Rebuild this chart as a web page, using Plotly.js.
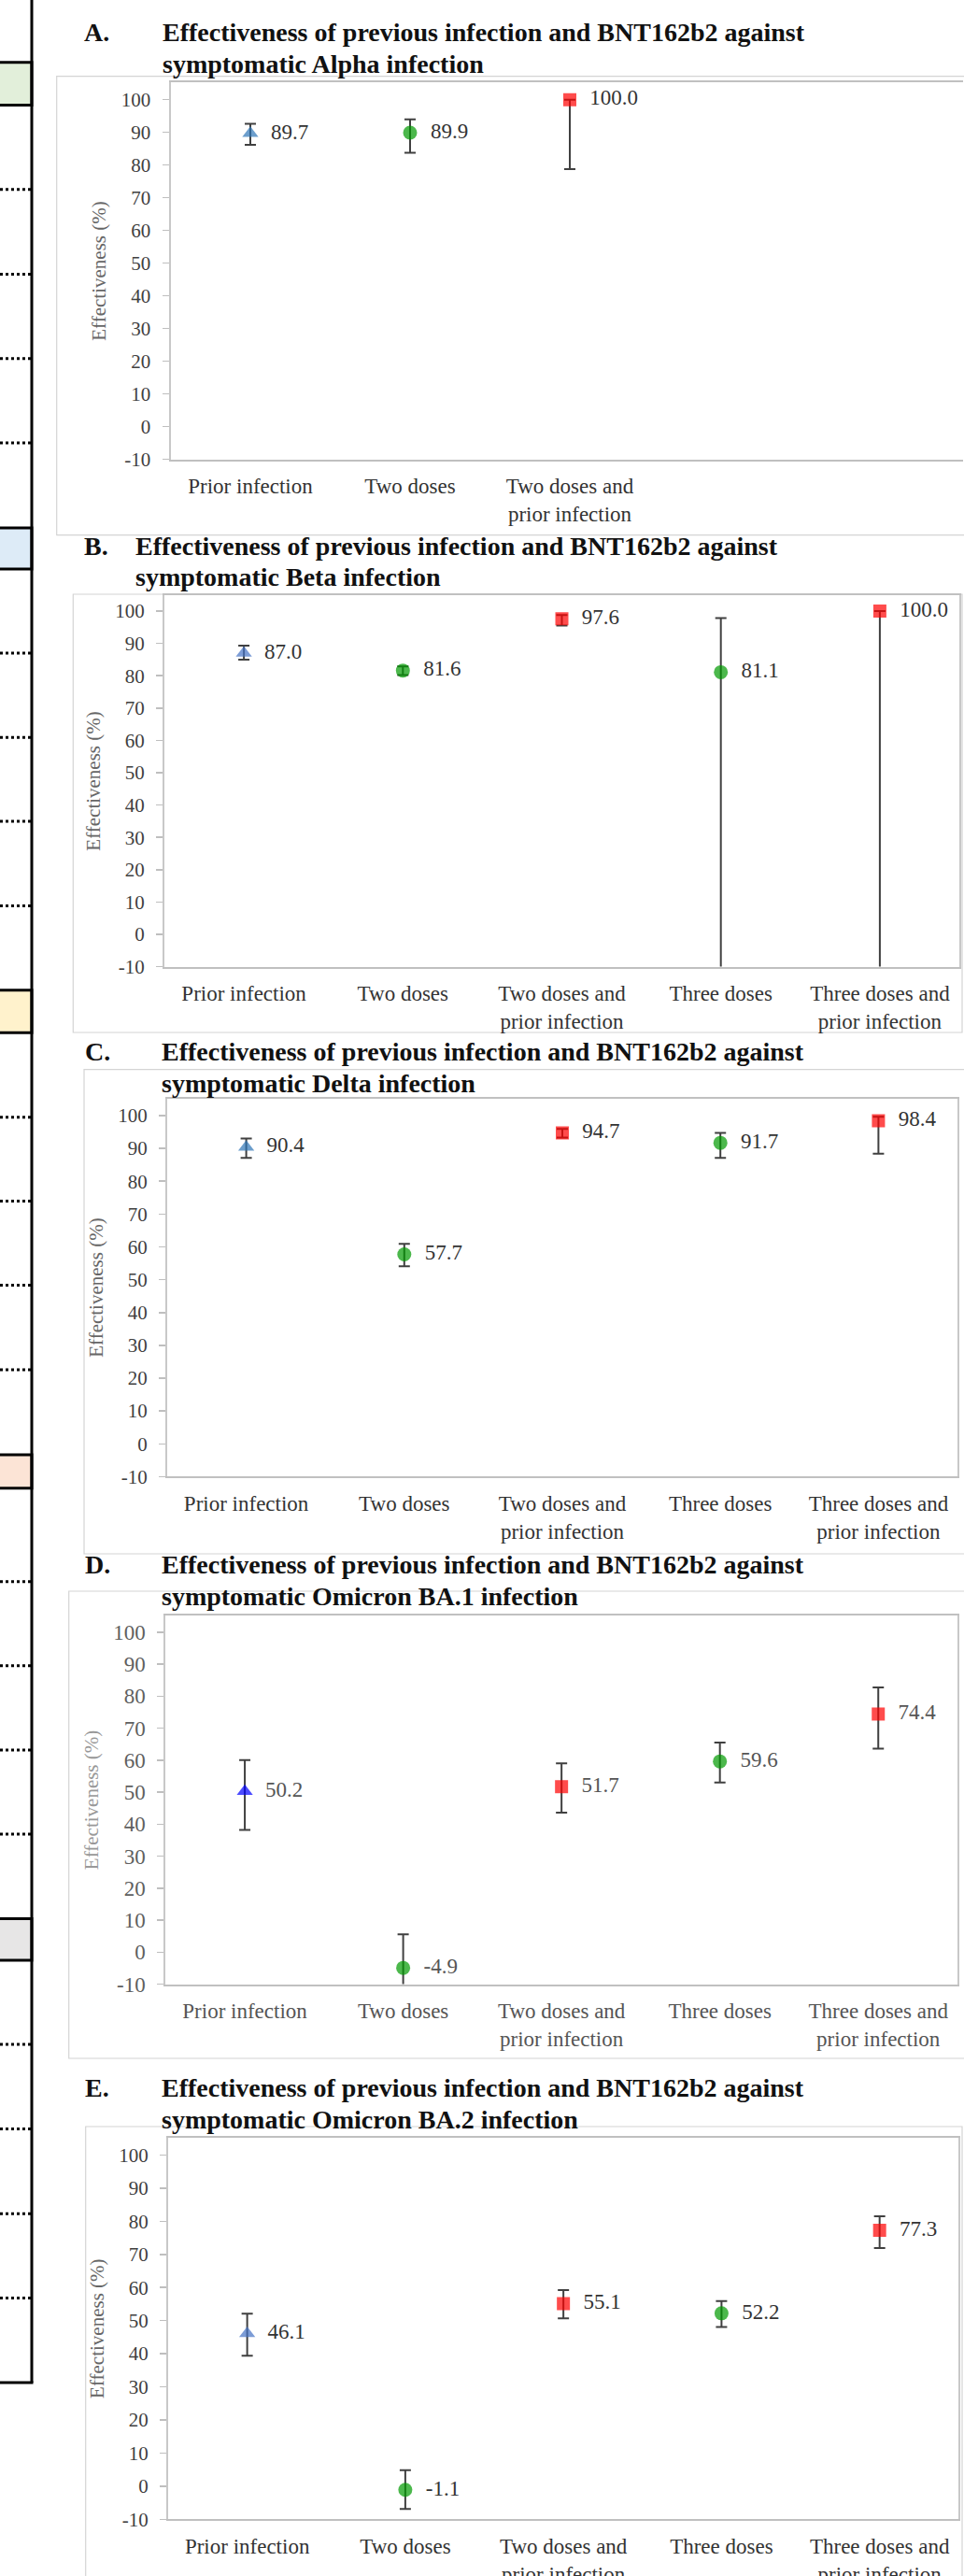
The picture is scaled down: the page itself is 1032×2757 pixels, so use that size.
<!DOCTYPE html>
<html>
<head>
<meta charset="utf-8">
<script src="https://cdn.plot.ly/plotly-3.0.1.min.js"></script>
<style>html,body{margin:0;padding:0;background:#fff;overflow:hidden}</style>
</head>
<body>
<div id="chart" style="width:1032px;height:2757px"></div>
<script>
// ---------------- DATA ----------------
const categories = ["Prior infection", "Two doses", "Two doses and<br>prior infection", "Three doses", "Three doses and<br>prior infection"];
const yTickVals = [-10, 0, 10, 20, 30, 40, 50, 60, 70, 80, 90, 100];
const panelLetters = ["A.", "B.", "C.", "D.", "E."];
const titleLine1 = "Effectiveness of previous infection and BNT162b2 against";
const variants = ["Alpha", "Beta", "Delta", "Omicron BA.1", "Omicron BA.2"];
const yTitle = "Effectiveness (%)";

// Alpha (3 groups)
const alphaVE   = [89.7, 89.9, 100.0];
const alphaLow  = [86.2, 83.8, 78.8];
const alphaHigh = [92.6, 94.0, 100.0];
// Beta
const betaVE   = [87.0, 81.6, 97.6, 81.1, 100.0];
const betaLow  = [85.0, 80.2, 95.5, -50.0, -40.0];
const betaHigh = [89.3, 82.9, 98.8, 97.8, 100.0];
// Delta
const deltaVE   = [90.4, 57.7, 94.7, 91.7, 98.4];
const deltaLow  = [87.1, 54.1, 93.3, 87.1, 88.4];
const deltaHigh = [93.0, 60.9, 95.9, 94.7, 99.6];
// Omicron BA.1
const ba1VE   = [50.2, -4.9, 51.7, 59.6, 74.4];
const ba1Low  = [38.2, -16.0, 43.6, 53.0, 63.6];
const ba1High = [60.0, 5.6, 59.0, 65.5, 82.7];
// Omicron BA.2
const ba2VE   = [46.1, -1.1, 55.1, 52.2, 77.3];
const ba2Low  = [39.4, -6.9, 50.7, 48.1, 71.9];
const ba2High = [52.1, 4.8, 59.2, 55.9, 81.5];

const symbols = ["triangle-up", "circle", "square", "circle", "square"];
const symbolSizes = [15, 15, 14, 15, 14];

// ---------------- LAYOUT GEOMETRY (px) ----------------
const W = 1032, H = 2757;
const FONT = "'Liberation Serif', 'Times New Roman', serif";
const panels = [
  {ve: alphaVE, lo: alphaLow, hi: alphaHigh, plot: [182.5, 88.3, 1031, 491.7], yTop: 105.26, xMax: 4.462, mirrorY: false,
   frame: [60.7, 81.7, 1060, 572.7], letterX: 88, textX: 171.5, base: [43, 77], blue: "#2e75b6",
   tick: "#404040", lab: "#333333", ytitle: "#666666", tickSize: 21},
  {ve: betaVE, lo: betaLow, hi: betaHigh, plot: [176, 637.3, 1027, 1034.6], yTop: 104.83, xMax: 4.5, mirrorY: true,
   frame: [78.3, 636, 1030, 1105], letterX: 88, textX: 143, base: [593, 627], blue: "#4472c4",
   tick: "#404040", lab: "#333333", ytitle: "#666666", tickSize: 21},
  {ve: deltaVE, lo: deltaLow, hi: deltaHigh, plot: [179, 1175.7, 1025, 1580.4], yTop: 105.2, xMax: 4.5, mirrorY: true,
   frame: [90, 1144.6, 1060, 1663], letterX: 89, textX: 171, base: [1134, 1168], blue: "#2e75b6",
   tick: "#404040", lab: "#333333", ytitle: "#666666", tickSize: 21},
  {ve: ba1VE, lo: ba1Low, hi: ba1High, plot: [177.3, 1729.3, 1025, 2123.6], yTop: 105.1, xMax: 4.5, mirrorY: true,
   frame: [73.7, 1703, 1060, 2203], letterX: 89, textX: 171, base: [1683, 1717], blue: "#0000ff",
   tick: "#5f5f5f", lab: "#555555", ytitle: "#999999", tickSize: 23},
  {ve: ba2VE, lo: ba2Low, hi: ba2High, plot: [180, 2288, 1026.3, 2696.3], yTop: 105.2, xMax: 4.5, mirrorY: true,
   frame: [91.7, 2276, 1030, 2800], letterX: 89, textX: 171, base: [2243.5, 2277.5], blue: "#4472c4",
   tick: "#404040", lab: "#333333", ytitle: "#666666", tickSize: 21}
];

const px = v => v / W;
const py = v => 1 - v / H;

const traces = [];
const layout = {
  width: W, height: H,
  margin: {l: 0, r: 0, t: 0, b: 0},
  paper_bgcolor: "#ffffff",
  plot_bgcolor: "#ffffff",
  showlegend: false,
  font: {family: FONT, color: "#333333"},
  annotations: [],
  shapes: []
};

panels.forEach((p, i) => {
  const n = p.ve.length;
  const cats = categories.slice(0, n);
  const colors = symbols.slice(0, n).map(s => s === "triangle-up" ? p.blue : (s === "circle" ? "#009a00" : "#ff0000"));
  const ax = i === 0 ? "" : String(i + 1);
  // 95% CI error bars (drawn first, underneath the markers)
  traces.push({
    type: "scatter",
    mode: "markers",
    x: cats,
    y: p.ve,
    xaxis: "x" + ax,
    yaxis: "y" + ax,
    marker: {size: 2, opacity: 0},
    error_y: {
      type: "data", symmetric: false,
      array: p.hi.map((h, k) => h - p.ve[k]),
      arrayminus: p.lo.map((l, k) => p.ve[k] - l),
      color: "#404040", thickness: 2, width: 6
    },
    hoverinfo: "skip",
    cliponaxis: true
  });
  // point estimates with value labels
  traces.push({
    type: "scatter",
    mode: "markers+text",
    x: cats,
    y: p.ve,
    xaxis: "x" + ax,
    yaxis: "y" + ax,
    text: p.ve.map(v => "\u00a0\u00a0" + v.toFixed(1)),
    textposition: "middle right",
    textfont: {family: FONT, size: 23, color: p.lab},
    marker: {symbol: symbols.slice(0, n), size: symbolSizes.slice(0, n), color: colors, line: {width: 0}},
    hoverinfo: "skip",
    cliponaxis: true
  });
  const [x0, y0, x1, y1] = p.plot;
  layout["xaxis" + ax] = {
    domain: [px(x0), px(x1)],
    anchor: "y" + ax,
    type: "category",
    categoryorder: "array",
    categoryarray: cats,
    range: [-0.5, p.xMax],
    showgrid: false, zeroline: false,
    showline: true, linecolor: "#c0c0c0", linewidth: 2, mirror: true,
    ticks: "",
    ticklabelstandoff: 7,
    tickfont: {family: FONT, size: 23, color: p.lab},
    fixedrange: true
  };
  layout["yaxis" + ax] = {
    domain: [py(y1), py(y0)],
    anchor: "x" + ax,
    range: [-10, p.yTop],
    tickmode: "array",
    tickvals: yTickVals,
    ticktext: yTickVals.map(String),
    showgrid: false, zeroline: false,
    showline: true, linecolor: "#c8c8c8", linewidth: 2, mirror: p.mirrorY,
    ticks: "outside", ticklen: 7, tickwidth: 1.5, tickcolor: "#bfbfbf",
    ticklabelstandoff: 8,
    tickfont: {family: FONT, size: p.tickSize, color: p.tick},
    title: {text: yTitle, font: {family: FONT, size: 21, color: p.ytitle}, standoff: 10},
    fixedrange: true
  };
  // outer chart frame
  layout.shapes.push({type: "rect", xref: "paper", yref: "paper", layer: "below",
    x0: px(p.frame[0]), x1: px(p.frame[2]), y0: py(p.frame[3]), y1: py(p.frame[1]),
    line: {color: "#d4d4d4", width: 1.2}, fillcolor: "rgba(0,0,0,0)"});
  // panel title
  const tfont = {family: FONT, size: 28, color: "#111111"};
  layout.annotations.push({xref: "paper", yref: "paper", x: px(p.letterX), y: py(p.base[0] - 9),
    xanchor: "left", yanchor: "middle", showarrow: false, text: "<b>" + panelLetters[i] + "</b>", font: tfont});
  layout.annotations.push({xref: "paper", yref: "paper", x: px(p.textX), y: py(p.base[0] - 9),
    xanchor: "left", yanchor: "middle", showarrow: false, text: "<b>" + titleLine1 + "</b>", font: tfont});
  layout.annotations.push({xref: "paper", yref: "paper", x: px(p.textX), y: py(p.base[1] - 9),
    xanchor: "left", yanchor: "middle", showarrow: false,
    text: "<b>symptomatic " + variants[i] + " infection</b>", font: tfont});
});

// ---------------- left strip (cropped table edge) ----------------
const stripBoxes = [[66.8, 112.5, "#e2efda"], [565, 609, "#ddebf7"], [1059.8, 1105.2, "#fff2cc"], [1557, 1592.7, "#fce4d6"], [2053.4, 2098, "#e7e6e6"]];
const stripDots = [202.8, 293.5, 383.8, 474, 699, 789.3, 879, 969.5, 1195.7, 1285.6, 1375.6, 1466, 1692.8, 1782.8, 1873, 1963, 2188, 2278.6, 2369.3, 2459.6];
stripBoxes.forEach(b => {
  layout.shapes.push({type: "rect", xref: "paper", yref: "paper", layer: "below",
    x0: px(-6), x1: px(34), y0: py(b[1]), y1: py(b[0]), fillcolor: b[2], line: {color: "#000000", width: 3}});
});
stripDots.forEach(d => {
  layout.shapes.push({type: "line", xref: "paper", yref: "paper", layer: "below",
    x0: px(0), x1: px(33), y0: py(d), y1: py(d), line: {color: "#000000", width: 3, dash: "dot"}});
});
layout.shapes.push({type: "line", xref: "paper", yref: "paper", layer: "below",
  x0: px(34), x1: px(34), y0: py(0), y1: py(2550), line: {color: "#000000", width: 3}});
layout.shapes.push({type: "line", xref: "paper", yref: "paper", layer: "below",
  x0: px(-2), x1: px(35.5), y0: py(2550), y1: py(2550), line: {color: "#000000", width: 3}});

Plotly.newPlot("chart", traces, layout, {staticPlot: true, displayModeBar: false});
</script>
</body>
</html>
